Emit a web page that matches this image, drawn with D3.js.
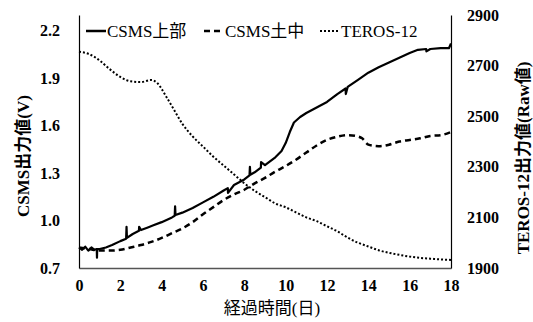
<!DOCTYPE html>
<html>
<head>
<meta charset="utf-8">
<script src="https://cdn.jsdelivr.net/npm/d3@7"></script>
<style>
  body { margin: 0; background: #fff; }
  svg { display: block; }
  svg text { font-family: "Liberation Serif", "Times New Roman", "Noto Sans CJK JP", serif !important; fill: #000; }
</style>
</head>
<body>
<div id="chart"></div>
<script>
// Data
const xTicks = [0, 2, 4, 6, 8, 10, 12, 14, 16, 18];
const leftTicks = [0.7, 1.0, 1.3, 1.6, 1.9, 2.2];
const rightTicks = [1900, 2100, 2300, 2500, 2700, 2900];

const seriesNames = ["CSMS上部", "CSMS土中", "TEROS-12"];

// CSMS上部 (V), with the small sensor spikes
const upperDays = [0, 0.15, 0.3, 0.45, 0.6, 0.75, 0.86, 0.87, 0.88, 1.0, 1.3, 1.6, 2.0, 2.28, 2.3, 2.32, 2.6, 2.9, 2.91, 3.0, 3.3, 3.6,
  4.0, 4.5, 4.63, 4.65, 4.67, 5.0, 5.5, 6.0, 6.5, 7.0, 7.2, 7.21, 7.5, 8.0, 8.25, 8.27, 8.29, 8.5, 8.8, 8.81, 9.0, 9.5, 9.8,
  10.0, 10.2, 10.4, 10.7, 11.0, 11.5, 12.0, 12.5, 12.9, 12.91, 13.0, 13.5, 14.0, 14.5, 15.0, 15.5, 16.0, 16.4,
  16.8, 16.81, 17.0, 17.5, 17.9, 18.0];
const upperVals = [0.83, 0.815, 0.835, 0.81, 0.83, 0.815, 0.82, 0.765, 0.82, 0.82, 0.83, 0.845, 0.87, 0.885, 0.96, 0.89, 0.915, 0.935, 0.96, 0.94, 0.955, 0.97,
  0.99, 1.02, 1.03, 1.09, 1.035, 1.05, 1.08, 1.115, 1.15, 1.19, 1.205, 1.175, 1.225, 1.26, 1.285, 1.34, 1.29, 1.305, 1.335, 1.37, 1.35, 1.40, 1.44,
  1.49, 1.56, 1.62, 1.655, 1.68, 1.715, 1.75, 1.80, 1.835, 1.80, 1.845, 1.89, 1.935, 1.97, 2.0, 2.03, 2.06, 2.08,
  2.085, 2.07, 2.085, 2.09, 2.09, 2.12];

// CSMS土中 (V)
const soilDays = [0, 0.5, 1.0, 1.5, 2.0, 2.5, 3.0, 3.5, 4.0, 4.5, 5.0, 5.5, 6.0, 6.5, 7.0, 7.5, 8.0, 8.5,
  9.0, 9.5, 10.0, 10.5, 11.0, 11.5, 12.0, 12.5, 13.0, 13.4, 13.7, 14.0, 14.5, 15.0, 15.5, 16.0, 16.5,
  17.0, 17.5, 18.0];
const soilVals = [0.83, 0.82, 0.81, 0.81, 0.815, 0.83, 0.845, 0.865, 0.89, 0.92, 0.95, 0.99, 1.04, 1.085, 1.13, 1.165, 1.195, 1.235,
  1.27, 1.31, 1.345, 1.385, 1.43, 1.475, 1.51, 1.53, 1.54, 1.535, 1.52, 1.48, 1.47, 1.48, 1.5, 1.51, 1.52,
  1.535, 1.54, 1.56];

// TEROS-12 (Raw)
const terosDays = [0, 0.5, 1.0, 1.5, 2.0, 2.5, 3.0, 3.5, 3.8, 4.2, 4.6, 5.0, 5.5, 6.0, 6.5, 7.0, 7.5, 8.0,
  8.5, 9.0, 9.5, 10.0, 10.5, 11.0, 11.5, 12.0, 12.5, 13.0, 13.5, 14.0, 14.5, 15.0, 15.5, 16.0, 16.5,
  17.0, 17.5, 18.0];
const terosVals = [2755, 2745, 2720, 2685, 2655, 2638, 2635, 2643, 2630, 2580, 2525, 2470, 2420, 2380, 2340, 2305, 2270, 2235,
  2205, 2180, 2155, 2140, 2120, 2100, 2085, 2065, 2045, 2020, 2000, 1985, 1970, 1960, 1952, 1945, 1940,
  1937, 1934, 1932];

const width = 533, height = 322;
const margin = {top: 15, right: 82, bottom: 54, left: 79};
const fontFamily = '"Liberation Serif", "Times New Roman", "Noto Sans CJK JP", serif';

const x = d3.scaleLinear().domain([0, 18]).range([margin.left, width - margin.right]);
const yL = d3.scaleLinear().domain([0.7, 2.3]).range([height - margin.bottom, margin.top]);
const yR = d3.scaleLinear().domain([1900, 2900]).range([height - margin.bottom, margin.top]);

const svg = d3.select("#chart").append("svg")
  .attr("width", width)
  .attr("height", height)
  .attr("font-family", fontFamily);

svg.append("rect").attr("width", width).attr("height", height).attr("fill", "#fff");

// Axes: lines only, no tick marks
const xAxis = g => g
  .attr("transform", `translate(0,${height - margin.bottom})`)
  .call(d3.axisBottom(x).tickValues(xTicks).tickSize(0).tickPadding(8).tickFormat(d3.format("d")))
  .attr("font-family", fontFamily)
  .call(g => g.select(".domain").attr("stroke", "#555").attr("stroke-width", 1.5))
  .call(g => g.selectAll("text").attr("font-size", 16).attr("font-weight", "bold").attr("dy", "0.95em"));

const yAxisL = g => g
  .attr("transform", `translate(${margin.left},0)`)
  .call(d3.axisLeft(yL).tickValues(leftTicks).tickSize(0).tickPadding(19).tickFormat(d3.format(".1f")))
  .attr("font-family", fontFamily)
  .call(g => g.select(".domain").attr("stroke", "#000").attr("stroke-width", 1.2))
  .call(g => g.selectAll("text").attr("font-size", 16).attr("font-weight", "bold"));

const yAxisR = g => g
  .attr("transform", `translate(${width - margin.right},0)`)
  .call(d3.axisRight(yR).tickValues(rightTicks).tickSize(0).tickPadding(16).tickFormat(d3.format("d")))
  .attr("font-family", fontFamily)
  .call(g => g.select(".domain").attr("stroke", "#000").attr("stroke-width", 1.2))
  .call(g => g.selectAll("text").attr("font-size", 16).attr("font-weight", "bold"));

svg.append("g").call(xAxis);
svg.append("g").call(yAxisL);
svg.append("g").call(yAxisR);

// Series lines
const zip = (days, vals) => days.map((d, i) => ({day: d, v: vals[i]}));

const lineL = d3.line().x(d => x(d.day)).y(d => yL(d.v));
const lineR = d3.line().x(d => x(d.day)).y(d => yR(d.v)).curve(d3.curveMonotoneX);
const lineSoft = d3.line().x(d => x(d.day)).y(d => yL(d.v)).curve(d3.curveMonotoneX);

svg.append("path")
  .datum(zip(terosDays, terosVals))
  .attr("fill", "none")
  .attr("stroke", "#000")
  .attr("stroke-width", 2)
  .attr("stroke-dasharray", "2,2")
  .attr("d", lineR);

svg.append("path")
  .datum(zip(soilDays, soilVals))
  .attr("fill", "none")
  .attr("stroke", "#000")
  .attr("stroke-width", 2.5)
  .attr("stroke-dasharray", "6,4")
  .attr("d", lineSoft);

svg.append("path")
  .datum(zip(upperDays, upperVals))
  .attr("fill", "none")
  .attr("stroke", "#000")
  .attr("stroke-width", 2.2)
  .attr("stroke-linejoin", "round")
  .attr("d", lineL);

// Legend
const legendItems = [
  {name: seriesNames[0], x: 86, dash: null, w: 2.5},
  {name: seriesNames[1], x: 204, dash: "6,4", w: 2.5},
  {name: seriesNames[2], x: 320, dash: "2,2", w: 2}
];
const legend = svg.append("g");
legendItems.forEach(it => {
  legend.append("line")
    .attr("x1", it.x).attr("x2", it.x + 20)
    .attr("y1", 31).attr("y2", 31)
    .attr("stroke", "#000")
    .attr("stroke-width", it.w)
    .attr("stroke-dasharray", it.dash);
  legend.append("text")
    .attr("x", it.x + 21).attr("y", 37)
    .attr("font-size", 17)
    .text(it.name);
});

// Axis titles
svg.append("text")
  .attr("transform", "translate(29,156) rotate(-90)")
  .attr("text-anchor", "middle")
  .attr("font-size", 17)
  .attr("font-weight", "bold")
  .text("CSMS出力値(V)");

svg.append("text")
  .attr("transform", "translate(529,158) rotate(-90)")
  .attr("text-anchor", "middle")
  .attr("font-size", 17)
  .attr("font-weight", "bold")
  .text("TEROS-12出力値(Raw値)");

svg.append("text")
  .attr("x", 272).attr("y", 314)
  .attr("text-anchor", "middle")
  .attr("font-size", 17)
  .text("経過時間(日)");
</script>
</body>
</html>
